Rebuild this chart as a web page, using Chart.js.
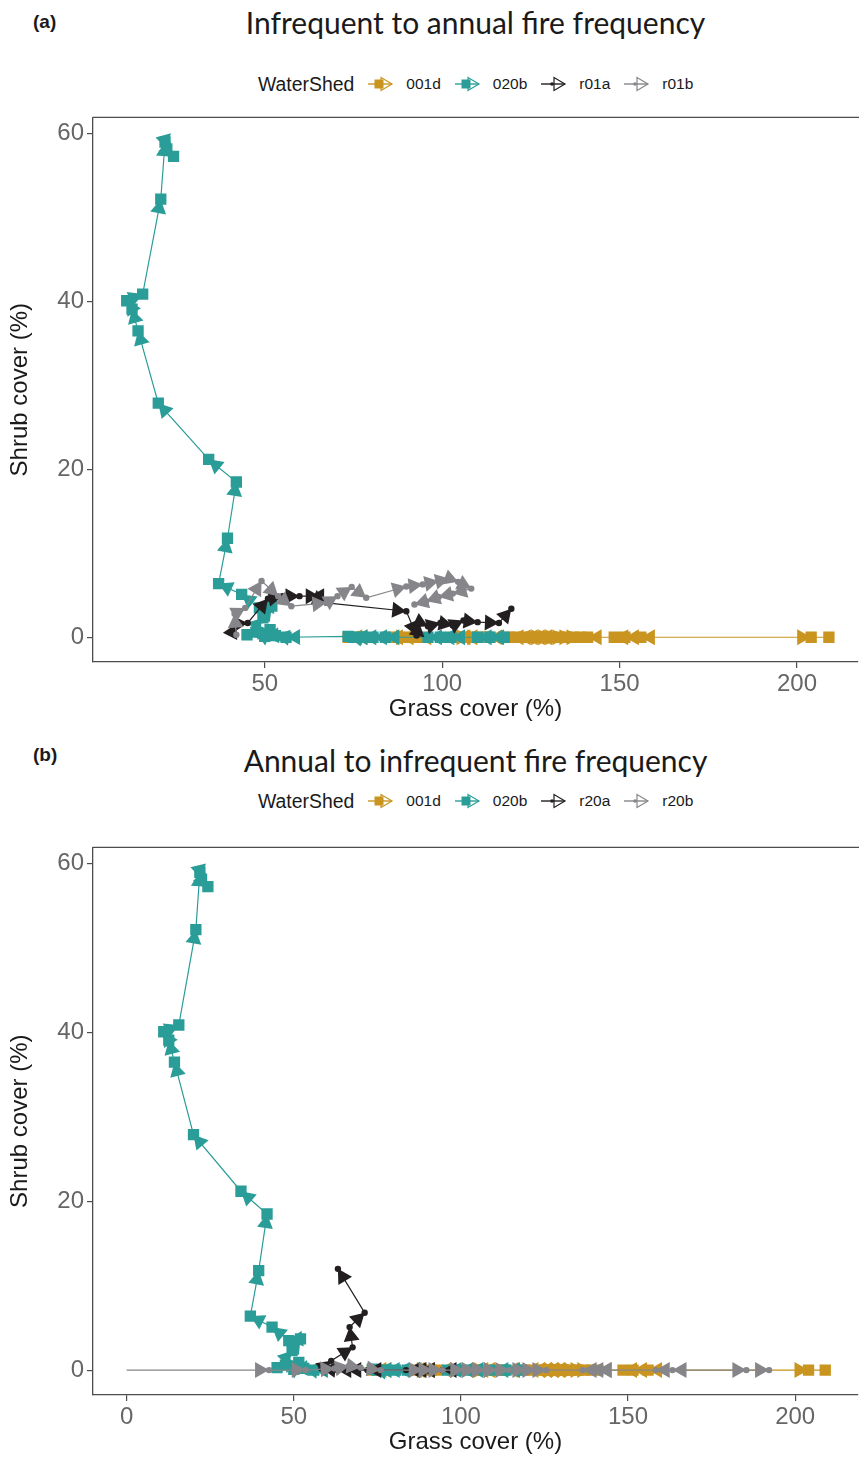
<!DOCTYPE html>
<html>
<head>
<meta charset="utf-8">
<script src="https://cdn.jsdelivr.net/npm/chart.js@4.4.1/dist/chart.umd.min.js"></script>
<style>
  body { margin: 0; background: #fff; width: 859px; height: 1458px; position: relative; overflow: hidden;
         font-family: "Liberation Sans", Arial, sans-serif; color: #1a1a1a; }
  .tag { position: absolute; left: 33px; font-weight: bold; font-size: 19px; line-height: 22px; }
  .title { position: absolute; left: 0; width: 951px; text-align: center; font-family: Lato, sans-serif;
           font-size: 30px; line-height: 34px; }
  .legend { position: absolute; left: 258px; height: 22px; display: flex; align-items: center; }
  .legend .lt { font-size: 19.4px; margin-right: 14px; }
  .legend .item { display: flex; align-items: center; margin-right: 14px; }
  .legend .item span { font-size: 15.5px; margin-left: 12px; }
  canvas { position: absolute; left: 0; }
</style>
</head>
<body>
<div class="tag" style="top:11px">(a)</div>
<div class="title" style="top:5px">Infrequent to annual fire frequency</div>
<div class="legend" id="legA" style="top:73px"></div>
<canvas id="chartA" width="859" height="625" style="top:100px"></canvas>

<div class="tag" style="top:744px">(b)</div>
<div class="title" style="top:743px">Annual to infrequent fire frequency</div>
<div class="legend" id="legB" style="top:790px"></div>
<canvas id="chartB" width="859" height="628" style="top:830px"></canvas>

<script>
// watershed trajectories: grass cover (x) and shrub cover (y), in time order
const grass001d = [209, 156, 151.5, 148.5, 141, 127, 131, 125, 135, 121, 129, 119, 133, 123, 137, 113, 106, 111, 104, 108, 93, 85, 91, 88, 75, 73.5, 139, 204];
const shrub001d = [0, 0, 0, 0, 0, 0, 0, 0, 0, 0, 0, 0, 0, 0, 0, 0, 0, 0, 0, 0, 0, 0, 0, 0, 0, 0, 0, 0];

const grass020b = [117.5, 113.5, 110, 102.5, 99.5, 96, 84, 80.5, 77.5, 75, 73.5, 56, 53, 50, 47.5, 51.5, 45, 49.5, 52, 48.5, 43.5, 37, 39.5, 42, 34.2, 20, 14.3, 12.6, 11.1, 15.6, 20.7, 21.9, 22.4, 24.3];
const shrub020b = [0, 0, 0, 0, 0, 0, 0, 0, 0, 0, 0.1, 0, 0.2, 0.1, 0.6, 0.9, 0.3, 2.3, 3.7, 3.5, 5.1, 6.4, 11.8, 18.5, 21.2, 27.9, 36.5, 39.1, 40.1, 40.9, 52.2, 59, 58.2, 57.3];

const grassR01a = [41.1, 42, 45.2, 50.9, 55, 59.8, 65.5, 62.8, 67.4, 89.9, 92.8, 93.5, 96, 99.5, 103, 106, 110, 116, 119.5];
const shrubR01a = [0.85, 1.6, 1.7, 4.6, 4.9, 4.9, 4.9, 4.9, 4.1, 3.1, 0.2, 1.8, 1.3, 1.7, 1.4, 2.0, 1.8, 1.7, 3.4];

const grassR01b = [42, 41.5, 44.5, 49.1, 53.8, 57.5, 67.4, 70.5, 74.5, 78.6, 89.9, 94.5, 99, 102, 104.5, 108.2, 103, 99, 95.5, 92.2];
const shrubR01b = [0.3, 2.8, 3.5, 6.7, 4.9, 3.7, 4.1, 4.9, 6.0, 4.7, 6.05, 6.3, 6.7, 7.0, 6.6, 5.8, 5.2, 4.8, 4.3, 3.9];

const grassR20a = [98.1, 94.5, 88, 85.5, 83.6, 72, 66, 63, 58.3, 61.2, 67.6, 66.7, 71.2, 63.2];
const shrubR20a = [0, 0, 0, 0, 0, 0, 0, 0, 0.2, 1.1, 2.7, 5.1, 6.8, 12.0];

const grassR20b = [0, 42.6, 53.6, 62.2, 66.5, 70, 76, 88.6, 91.5, 94.5, 101, 104.5, 107.5, 111, 114.5, 119.6, 122.6, 125.6, 185.4, 192.2, 163.3, 158.3, 140.8, 138.4, 136.4];
const shrubR20b = [0, 0, 0, 0.2, 0.5, 0.3, 0, 0, 0, 0, 0, 0, 0, 0, 0, 0, 0, 0, 0, 0, 0, 0, 0, 0, 0];

const watershedsA = ['001d', '020b', 'r01a', 'r01b'];
const watershedsB = ['001d', '020b', 'r20a', 'r20b'];
const colors = ['#C9941F', '#2A9D98', '#231F20', '#86868A'];
const shapes = ['rect', 'rect', 'circle', 'circle'];

const FONT = '"Liberation Sans", Arial, sans-serif';

function zip(xs, ys) {
  return xs.map((x, i) => ({ x: x, y: ys[i] }));
}

// filled arrow head at the end of every segment (ggplot-style geom_segment arrows)
const arrowHeads = {
  id: 'arrowHeads',
  beforeDatasetDraw(chart, args) {
    const pts = args.meta.data;
    const ds = chart.data.datasets[args.index];
    const ctx = chart.ctx, area = chart.chartArea;
    const len = 14, half = 8;
    ctx.save();
    ctx.beginPath();
    ctx.rect(area.left, area.top, area.right - area.left, area.bottom - area.top);
    ctx.clip();
    ctx.fillStyle = ds.borderColor;
    for (let i = 1; i < pts.length; i++) {
      const a = pts[i - 1], b = pts[i];
      const dx = b.x - a.x, dy = b.y - a.y, d = Math.hypot(dx, dy);
      if (d < 0.5) continue;
      const ux = dx / d, uy = dy / d;
      const bx = b.x - ux * len, by = b.y - uy * len;
      ctx.beginPath();
      ctx.moveTo(b.x, b.y);
      ctx.lineTo(bx - uy * half, by + ux * half);
      ctx.lineTo(bx + uy * half, by - ux * half);
      ctx.closePath();
      ctx.fill();
    }
    ctx.restore();
  }
};

const topBorder = {
  id: 'topBorder',
  afterDraw(chart) {
    const ctx = chart.ctx, a = chart.chartArea;
    ctx.save();
    ctx.strokeStyle = '#4d4d4d';
    ctx.lineWidth = 1.3;
    ctx.beginPath();
    ctx.moveTo(a.left, a.top);
    ctx.lineTo(chart.width, a.top);
    ctx.stroke();
    ctx.restore();
  }
};

function makeDatasets(names, series) {
  return names.map((name, i) => ({
    label: name,
    data: zip(series[i][0], series[i][1]),
    showLine: true,
    borderColor: colors[i],
    backgroundColor: colors[i],
    borderWidth: 1.2,
    pointStyle: shapes[i],
    pointRadius: ctx => (ctx.raw && ctx.raw.x === 0 ? 0 : (shapes[i] === 'rect' ? 8 : 3.2)),
    pointBorderWidth: 0,
    pointBackgroundColor: colors[i],
    order: names.length - i
  }));
}

function makeChart(id, names, series, xMin, xMax) {
  return new Chart(document.getElementById(id), {
    type: 'scatter',
    data: { datasets: makeDatasets(names, series) },
    plugins: [arrowHeads, topBorder],
    options: {
      responsive: false,
      animation: false,
      events: [],
      layout: { autoPadding: false, padding: { top: 14, right: 1, left: 0, bottom: 0 } },
      plugins: { legend: { display: false }, tooltip: { enabled: false } },
      scales: {
        x: {
          type: 'linear', min: xMin, max: xMax,
          ticks: { stepSize: 50, includeBounds: false, color: '#666', padding: 2, maxRotation: 0,
                   font: { family: FONT, size: 24 } },
          grid: { drawOnChartArea: false, tickLength: 6, color: '#4d4d4d', lineWidth: 1.2 },
          border: { color: '#4d4d4d', width: 1.3 },
          title: { display: true, text: 'Grass cover (%)', color: '#1a1a1a',
                   font: { family: FONT, size: 24 }, padding: { top: 0, bottom: 1 } },
          afterFit: s => { s.height = 63; }
        },
        y: {
          type: 'linear', min: -2.95, max: 61.95,
          ticks: { stepSize: 20, includeBounds: false, color: '#666', padding: 3,
                   font: { family: FONT, size: 24 } },
          grid: { drawOnChartArea: false, tickLength: 6, color: '#4d4d4d', lineWidth: 1.2 },
          border: { color: '#4d4d4d', width: 1.3 },
          title: { display: true, text: 'Shrub cover (%)', color: '#1a1a1a',
                   font: { family: FONT, size: 24 }, padding: { top: 6, bottom: 0 } },
          afterFit: s => { s.width = 93; }
        }
      }
    }
  });
}

function legendIcon(i) {
  const c = colors[i];
  let mark = shapes[i] === 'rect'
    ? `<rect x="6.5" y="4.5" width="9" height="9" fill="${c}"/>`
    : `<circle cx="11" cy="9" r="1.8" fill="${c}"/>`;
  return `<svg width="26" height="18" viewBox="0 0 26 18">
    <line x1="0" y1="9" x2="24" y2="9" stroke="${c}" stroke-width="1.4"/>
    ${mark}
    <polygon points="24,9 13,2.5 13,15.5" fill="none" stroke="${c}" stroke-width="1.2"/>
  </svg>`;
}

function buildLegend(id, names) {
  const el = document.getElementById(id);
  let html = '<span class="lt">WaterShed</span>';
  names.forEach((n, i) => {
    html += `<div class="item">${legendIcon(i)}<span>${n}</span></div>`;
  });
  el.innerHTML = html;
}

buildLegend('legA', watershedsA);
buildLegend('legB', watershedsB);

makeChart('chartA', watershedsA, [
  [grass001d, shrub001d], [grass020b, shrub020b], [grassR01a, shrubR01a], [grassR01b, shrubR01b]
], 1.6, 217.2);

makeChart('chartB', watershedsB, [
  [grass001d, shrub001d], [grass020b, shrub020b], [grassR20a, shrubR20a], [grassR20b, shrubR20b]
], -10.07, 218.8);
</script>
</body>
</html>
